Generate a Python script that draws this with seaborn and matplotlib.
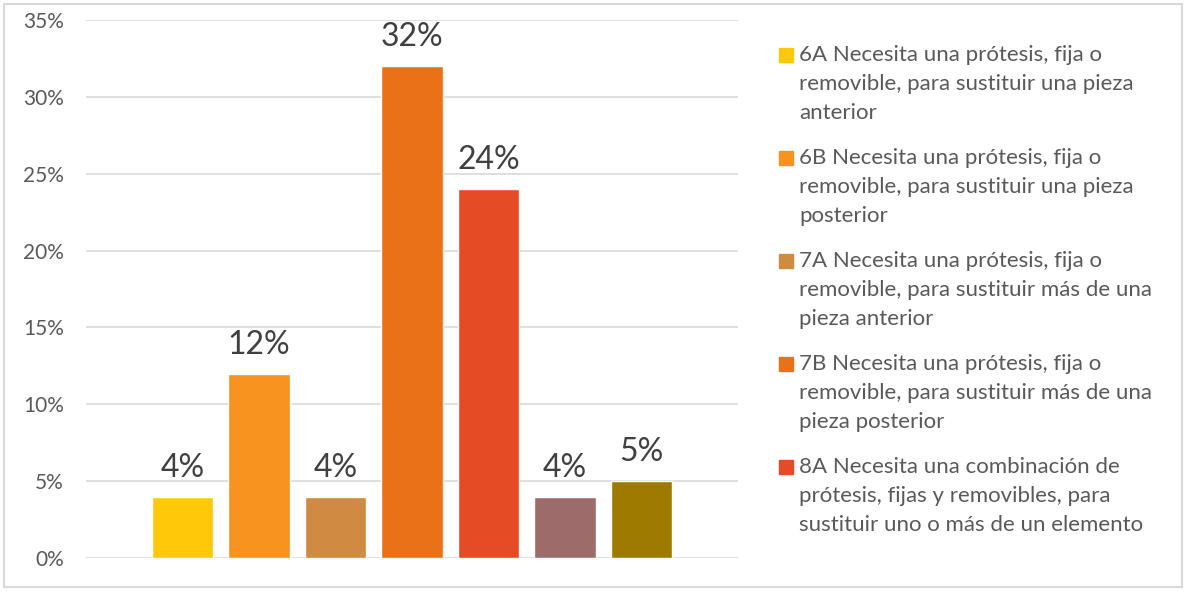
import textwrap
import pandas as pd
import seaborn as sns
import matplotlib.pyplot as plt
from matplotlib.patches import Rectangle
from matplotlib.ticker import PercentFormatter

categories = [
    '6A Necesita una prótesis, fija o removible, para sustituir una pieza anterior',
    '6B Necesita una prótesis, fija o removible, para sustituir una pieza posterior',
    '7A Necesita una prótesis, fija o removible, para sustituir más de una pieza anterior',
    '7B Necesita una prótesis, fija o removible, para sustituir más de una pieza posterior',
    '8A Necesita una combinación de prótesis, fijas y removibles, para sustituir uno o más de un elemento',
    '8B',
    '9',
]
values = [0.04, 0.12, 0.04, 0.32, 0.24, 0.04, 0.05]
labels = ['4%', '12%', '4%', '32%', '24%', '4%', '5%']
colors = ['#FFC90A', '#F7931E', '#CE8B41', '#EB7118', '#E54B24', '#9E6B6B', '#9E7B00']

df = pd.DataFrame({'categoria': categories, 'valor': values})

sns.set_style('white')
plt.rcParams['font.family'] = ['Lato', 'DejaVu Sans']

W, H = 1184, 592
fig = plt.figure(figsize=(W / 100, H / 100), dpi=100)
ax = fig.add_axes([86 / W, 1 - 558 / H, (738 - 86) / W, (558 - 20) / H])

sns.barplot(data=df, x='categoria', y='valor', hue='categoria',
            palette=colors, width=0.8, saturation=1, legend=False, ax=ax)

ax.set_ylim(0, 0.35)
ax.set_xlim(-1.26, 7.26)
ax.set_yticks([0, 0.05, 0.10, 0.15, 0.20, 0.25, 0.30, 0.35])
ax.yaxis.set_major_formatter(PercentFormatter(1.0, decimals=0))
ax.yaxis.grid(True, color='#D9D9D9', linewidth=1.2)
ax.set_axisbelow(True)
ax.set_xticks([])
ax.set_xlabel('')
ax.set_ylabel('')
ax.tick_params(axis='y', labelsize=15, labelcolor='#595959', length=0, pad=16)
for s in ax.spines.values():
    s.set_visible(False)

# etiquetas de datos
for i, (v, lab) in enumerate(zip(values, labels)):
    ax.annotate(lab, (i, v), xytext=(0, 10), textcoords='offset points',
                ha='center', va='bottom', fontsize=23, color='#404040')

# leyenda (solo las primeras cinco categorías son visibles)
for i in range(5):
    top = 45 + i * 103
    fig.patches.append(Rectangle((779 / W, 1 - (top + 17) / H), 14 / W, 14 / H,
                                 transform=fig.transFigure, color=colors[i]))
    fig.text(799 / W, 1 - top / H, textwrap.fill(categories[i], 36),
             ha='left', va='top', fontsize=16, color='#595959', linespacing=1.56)

# borde exterior
fig.patches.append(Rectangle((4 / W, 5 / H), 1178 / W, 583 / H,
                             transform=fig.transFigure, fill=False,
                             edgecolor='#D9D9D9', linewidth=1.5))

fig.savefig('out.png', dpi=100)
